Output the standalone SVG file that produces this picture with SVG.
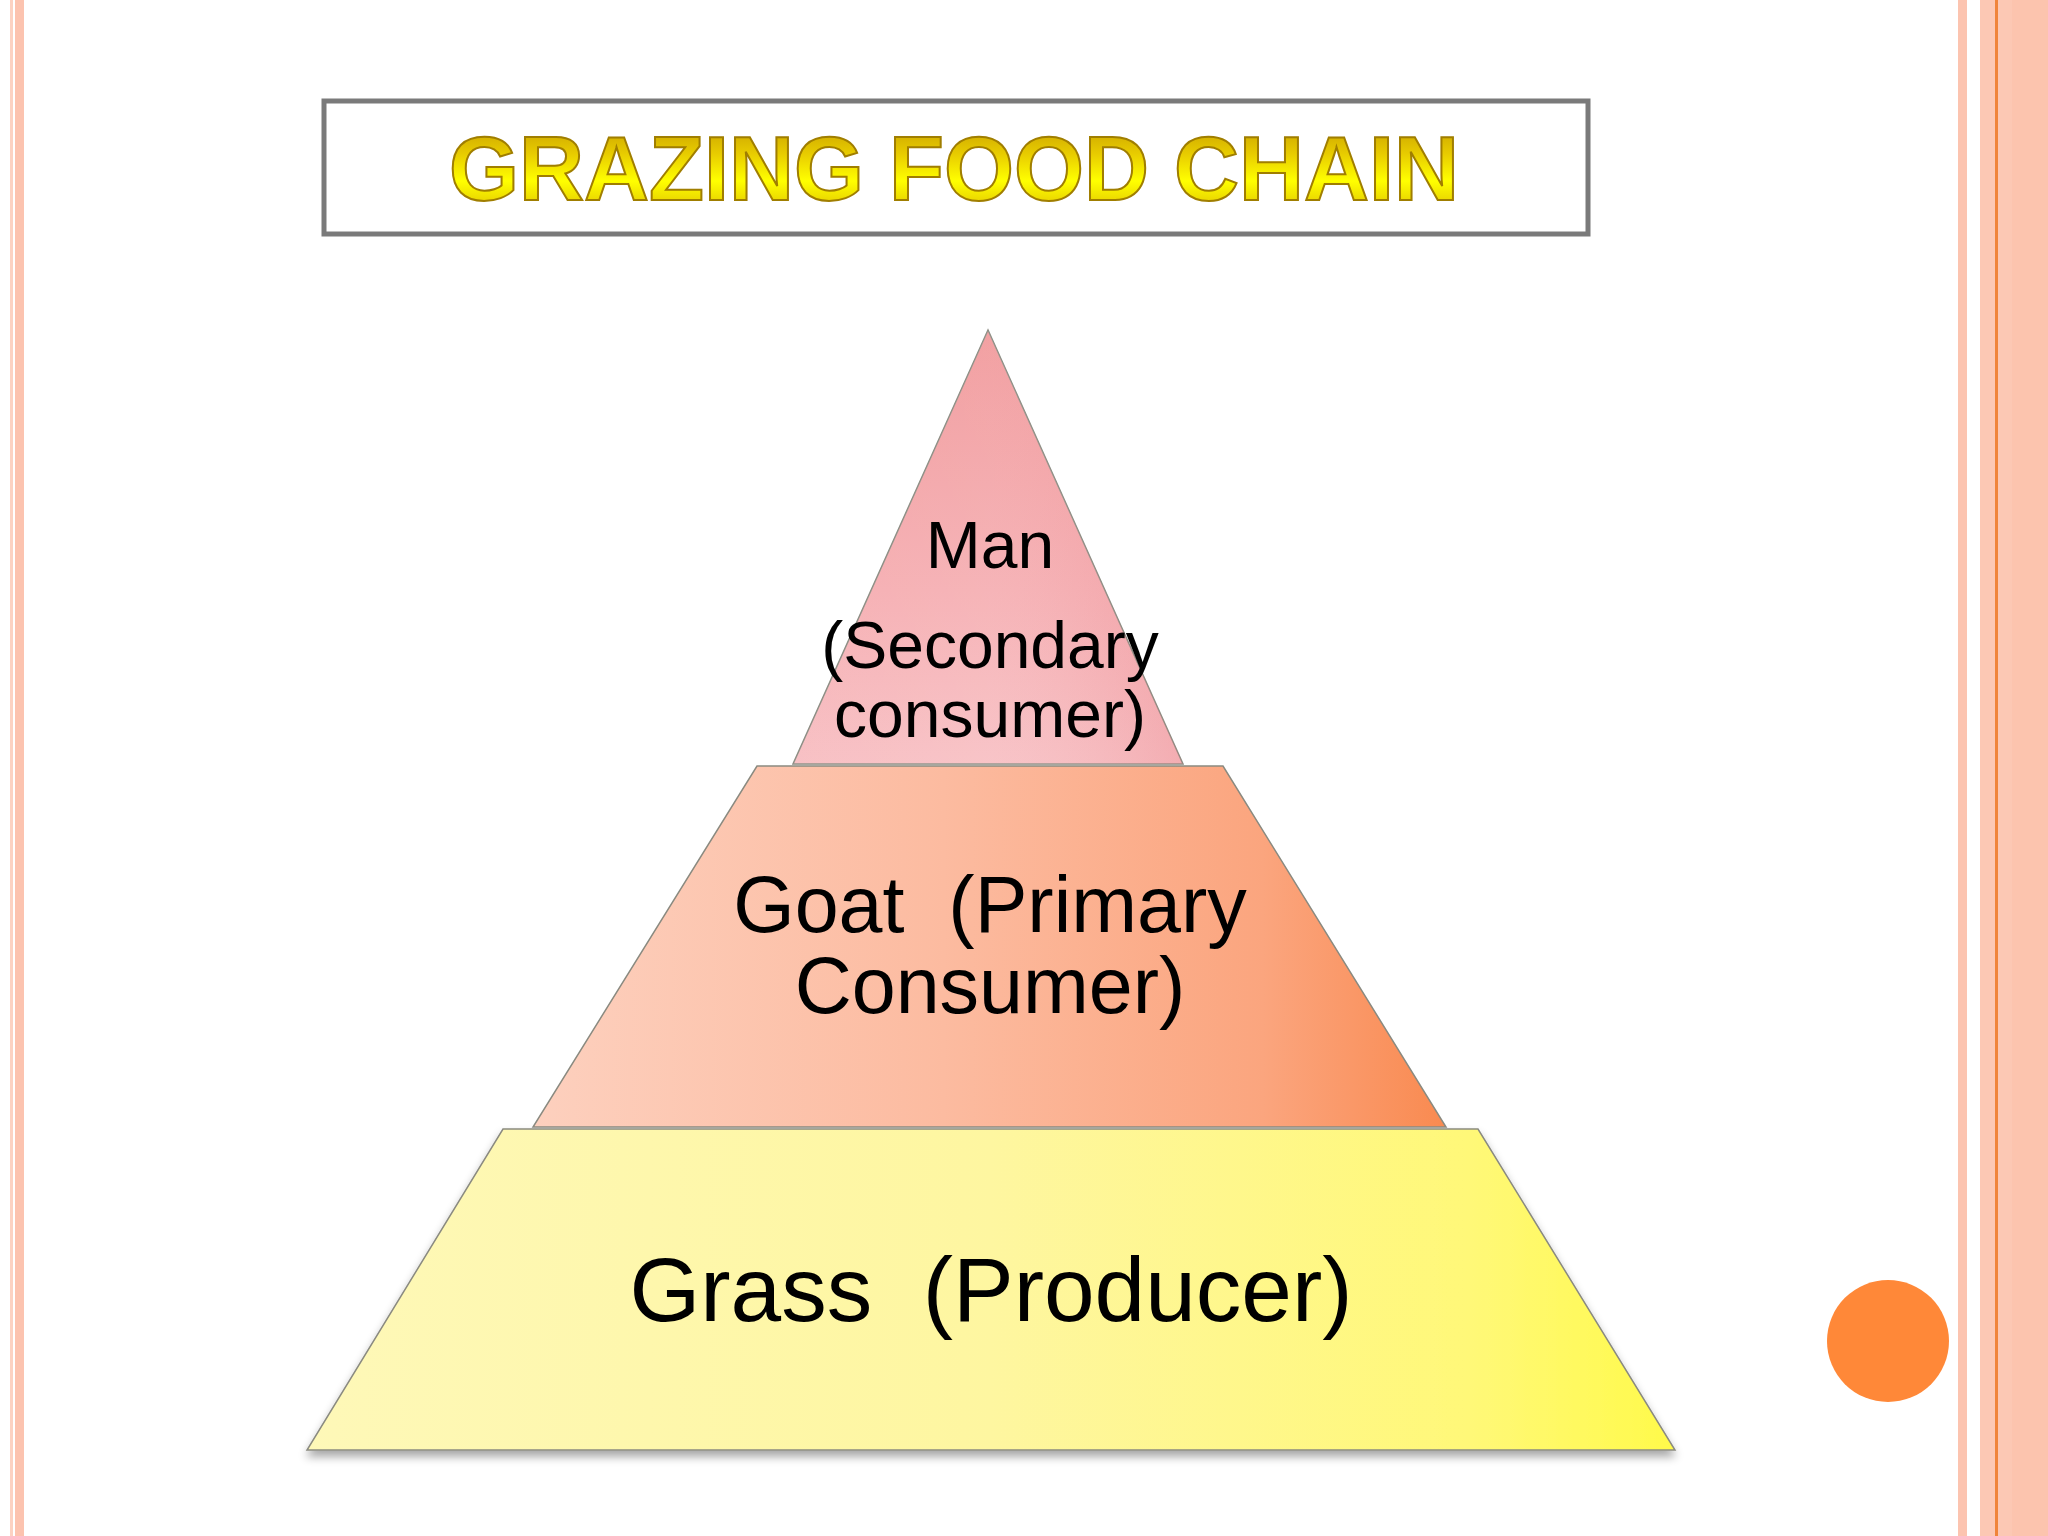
<svg xmlns="http://www.w3.org/2000/svg" width="2048" height="1536" viewBox="0 0 2048 1536">
  <defs>
    <style>
      .lbl { font-family: "Liberation Sans", Arial, sans-serif; fill: #000; text-anchor: middle; white-space: pre; }
      .tier { stroke: #8a8a80; stroke-width: 1.5; stroke-linejoin: miter; }
    </style>
    <linearGradient id="titleGrad" x1="0" y1="0" x2="0" y2="1">
      <stop offset="0" stop-color="#C49A00"/>
      <stop offset="0.35" stop-color="#E8CC00"/>
      <stop offset="0.62" stop-color="#FFFF00"/>
      <stop offset="1" stop-color="#D8B400"/>
    </linearGradient>
    <linearGradient id="topGrad" x1="0" y1="0" x2="0" y2="1">
      <stop offset="0" stop-color="#F09496"/>
      <stop offset="0.6" stop-color="#F5AAAE"/>
      <stop offset="1" stop-color="#F7BCC0"/>
    </linearGradient>
    <linearGradient id="topGradH" x1="0" y1="0" x2="1" y2="0">
      <stop offset="0" stop-color="#FFFFFF" stop-opacity="0.08"/>
      <stop offset="0.5" stop-color="#FFFFFF" stop-opacity="0.12"/>
      <stop offset="1" stop-color="#E88088" stop-opacity="0.25"/>
    </linearGradient>
    <linearGradient id="midGrad" x1="0" y1="0" x2="1" y2="0">
      <stop offset="0" stop-color="#FDD0BE"/>
      <stop offset="0.45" stop-color="#FCBBA0"/>
      <stop offset="0.8" stop-color="#FBA57E"/>
      <stop offset="1" stop-color="#F98A50"/>
    </linearGradient>
    <linearGradient id="botGrad" x1="0" y1="0" x2="1" y2="0">
      <stop offset="0" stop-color="#FEF8B8"/>
      <stop offset="0.5" stop-color="#FEF6A0"/>
      <stop offset="0.85" stop-color="#FFF878"/>
      <stop offset="1" stop-color="#FFFA4A"/>
    </linearGradient>
    <filter id="shadow" x="-10%" y="-10%" width="120%" height="130%">
      <feGaussianBlur in="SourceAlpha" stdDeviation="5"/>
      <feOffset dx="0" dy="6" result="b"/>
      <feComponentTransfer><feFuncA type="linear" slope="0.35"/></feComponentTransfer>
      <feMerge><feMergeNode/><feMergeNode in="SourceGraphic"/></feMerge>
    </filter>
  </defs>

  <rect x="0" y="0" width="2048" height="1536" fill="#FFFFFF"/>

  <!-- left border -->
  <g id="left-border">
    <rect x="10" y="0" width="3" height="1536" fill="#FCD2C2"/>
    <rect x="15" y="0" width="9" height="1536" fill="#FCC3AF"/>
  </g>
  <!-- right border -->
  <g id="right-border">
    <rect x="1958" y="0" width="9" height="1536" fill="#FCC4B0"/>
    <rect x="1980" y="0" width="68" height="1536" fill="#FCC8B4"/>
    <rect x="2012" y="0" width="36" height="1536" fill="#FCC4AE"/>
    <rect x="1995" y="0" width="3" height="1536" fill="#F0843A"/>
  </g>

  <!-- title -->
  <g id="title">
    <rect x="324" y="101" width="1264" height="133" fill="#FFFFFF" stroke="#7A7A7A" stroke-width="5"/>
    <text x="954" y="200" font-family="'Liberation Sans', Arial, sans-serif" font-weight="bold" font-size="90" text-anchor="middle" fill="url(#titleGrad)" stroke="#A07E00" stroke-width="2">GRAZING FOOD CHAIN</text>
  </g>

  <!-- pyramid tiers -->
  <g id="tier-producer" filter="url(#shadow)">
    <polygon class="tier" points="503,1129 1478,1129 1675,1450 307,1450" fill="url(#botGrad)"/>
    <text class="lbl" x="991" y="1321" font-size="91" xml:space="preserve">Grass  (Producer)</text>
  </g>

  <g id="tier-primary">
    <polygon class="tier" points="757,766 1223,766 1446,1127 533,1127" fill="url(#midGrad)"/>
    <text class="lbl" x="990" y="932" font-size="79" xml:space="preserve">Goat  (Primary</text>
    <text class="lbl" x="990" y="1013" font-size="79">Consumer)</text>
  </g>

  <g id="tier-secondary">
    <polygon class="tier" points="988,330 1183,764 793,764" fill="url(#topGrad)"/>
    <polygon points="988,330 1183,764 793,764" fill="url(#topGradH)"/>
    <text class="lbl" x="990" y="568" font-size="66">Man</text>
    <text class="lbl" x="990" y="668" font-size="66">(Secondary</text>
    <text class="lbl" x="990" y="737" font-size="66">consumer)</text>
  </g>

  <!-- decoration -->
  <circle id="dot" cx="1888" cy="1341" r="61" fill="#FF8838"/>

  <g id="connectors"></g>
</svg>
